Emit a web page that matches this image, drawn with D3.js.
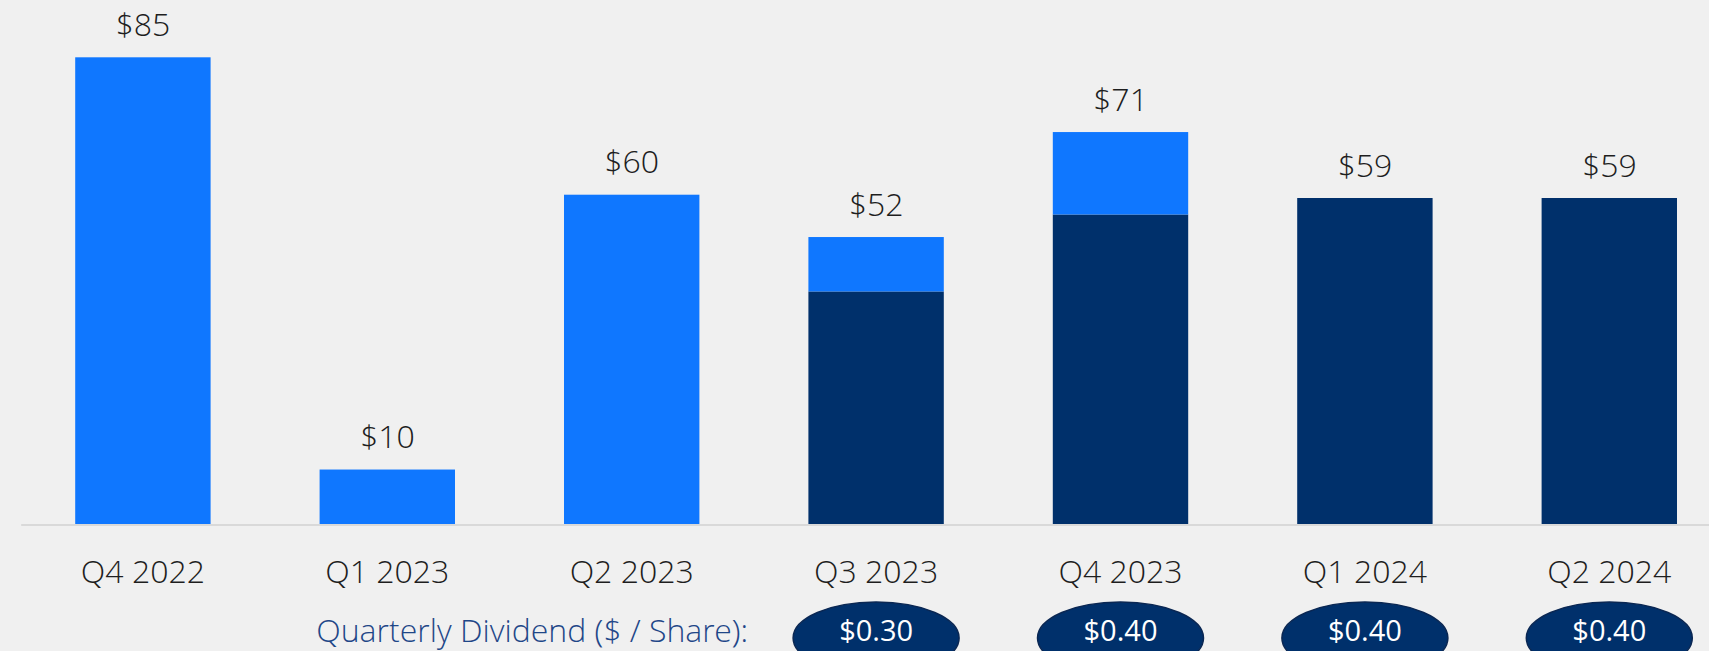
<!DOCTYPE html>
<html>
<head>
<meta charset="utf-8">
<script src="https://cdn.jsdelivr.net/npm/d3@7"></script>
<style>
  html, body { margin: 0; padding: 0; background: #f0f0f0; overflow: hidden; }
  text { font-family: "Segoe UI Light", "Open Sans Light", "Open Sans", sans-serif; }
  text.pillText { font-family: "Open Sans", sans-serif; }
</style>
</head>
<body>
<svg id="chart" width="1709" height="651"></svg>
<script>
// data
var categories = ["Q4 2022", "Q1 2023", "Q2 2023", "Q3 2023", "Q4 2023", "Q1 2024", "Q2 2024"];
var darkVals  = [0, 0, 0, 42.4, 56.4, 59.4, 59.4];
var lightVals = [85, 10, 60, 9.9, 15, 0, 0];
var totalLabels = ["$85", "$10", "$60", "$52", "$71", "$59", "$59"];
var dividendCats = ["Q3 2023", "Q4 2023", "Q1 2024", "Q2 2024"];
var dividendVals = ["$0.30", "$0.40", "$0.40", "$0.40"];

var darkColor = "#00306b";
var lightColor = "#0f77ff";

var svg = d3.select("#chart");

var rows = categories.map(function(c, i){
    return {cat: c, dark: darkVals[i], light: lightVals[i], label: totalLabels[i]};
});

var stack = d3.stack().keys(["dark", "light"]);
var series = stack(rows);

//scales
var x = d3.scaleBand()
    .domain(categories)
    .range([20.7, 1731.5])
    .paddingInner(0.446)
    .paddingOuter(0.223);

var y = d3.scaleLinear()
    .domain([0, 85])
    .range([524.5, 57.3]);

//bars
svg.selectAll("g.series")
   .data(series)
   .enter()
   .append("g")
   .attr("class", "series")
   .attr("fill", function(d){ return d.key == "dark" ? darkColor : lightColor; })
   .selectAll("rect")
   .data(function(d){ return d; })
   .enter()
   .append("rect")
   .attr("x", function(d){ return x(d.data.cat); })
   .attr("y", function(d){ return y(d[1]); })
   .attr("width", x.bandwidth())
   .attr("height", function(d){ return y(d[0]) - y(d[1]); });

//total labels
svg.selectAll("text.total")
   .data(rows)
   .enter()
   .append("text")
   .attr("class", "total")
   .attr("x", function(d){ return x(d.cat) + x.bandwidth() / 2; })
   .attr("y", function(d){ return y(d.dark + d.light) - 21.5; })
   .attr("text-anchor", "middle")
   .attr("font-size", 32)
   .attr("font-weight", 300)
   .attr("fill", "#1e1e1e")
   .text(function(d){ return d.label; });

//x axis
var xAxis = svg.append("g")
   .attr("transform", "translate(0," + y(0) + ")")
   .call(d3.axisBottom(x).tickSize(0).tickPadding(0));

xAxis.select(".domain")
   .attr("stroke", "#d9d9d9")
   .attr("stroke-width", 2);

xAxis.selectAll(".tick text")
   .attr("dy", null)
   .attr("y", 58.5)
   .attr("font-family", null)
   .attr("font-size", 32)
   .attr("font-weight", 300)
   .attr("fill", "#1e1e1e");

//dividend row
svg.append("text")
   .attr("x", 748)
   .attr("y", 641.7)
   .attr("text-anchor", "end")
   .attr("font-size", 32)
   .attr("font-weight", 300)
   .attr("fill", "#1f4788")
   .text("Quarterly Dividend ($ / Share):");

var pills = svg.selectAll("g.pill")
   .data(dividendCats)
   .enter()
   .append("g")
   .attr("class", "pill")
   .attr("transform", function(d){ return "translate(" + (x(d) + x.bandwidth() / 2) + ",0)"; });

pills.append("ellipse")
   .attr("cx", 0)
   .attr("cy", 638)
   .attr("rx", 83)
   .attr("ry", 36)
   .attr("fill", darkColor)
   .attr("stroke", "#0a2753")
   .attr("stroke-width", 1.5);

pills.append("text")
   .attr("class", "pillText")
   .attr("x", 0)
   .attr("y", 640.7)
   .attr("text-anchor", "middle")
   .attr("font-size", 29)
   .attr("fill", "#ffffff")
   .text(function(d, i){ return dividendVals[i]; });
</script>
</body>
</html>
